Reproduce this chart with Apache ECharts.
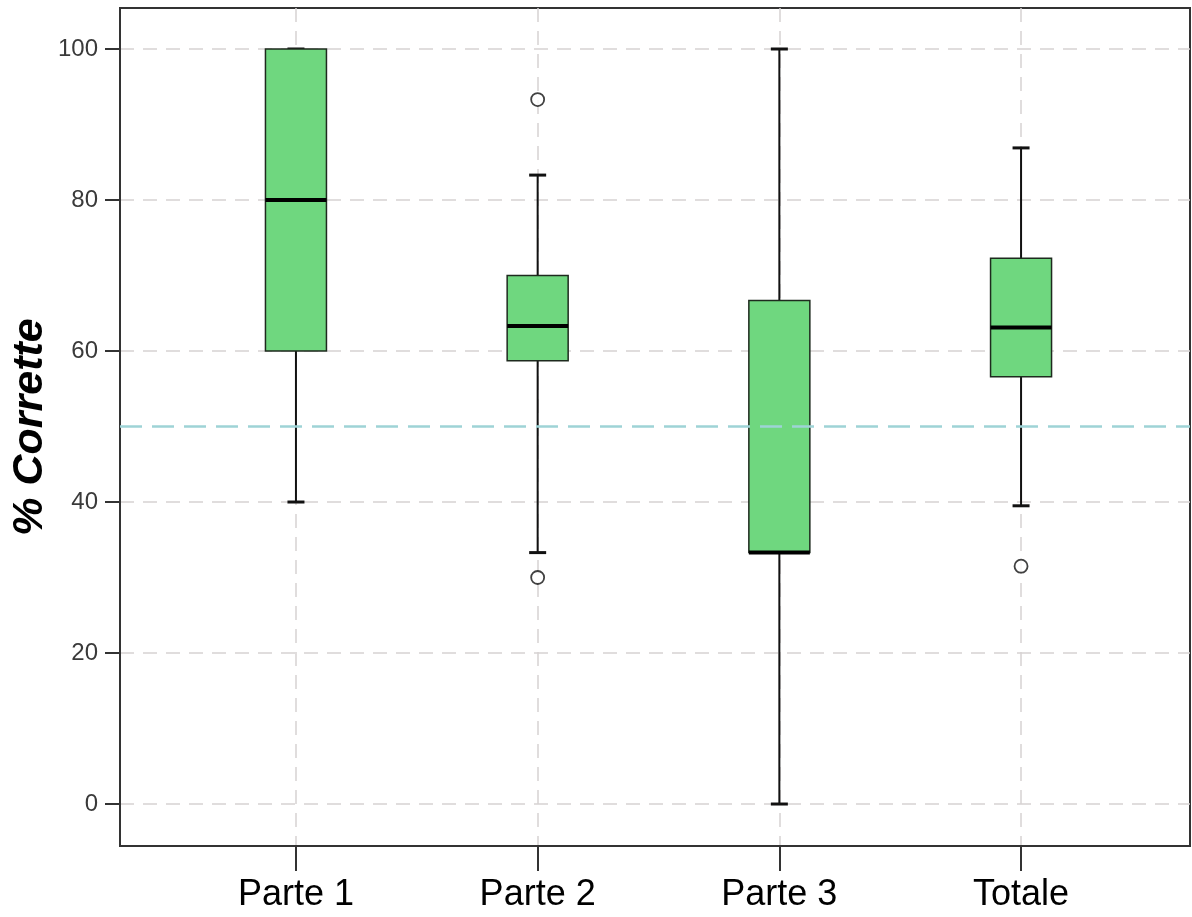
<!DOCTYPE html>
<html>
<head>
<meta charset="utf-8">
<script src="https://cdn.jsdelivr.net/npm/echarts@6/dist/echarts.min.js"></script>
<style>
  html, body { margin: 0; padding: 0; background: #fff; }
  #main { width: 1192px; height: 917px; }
</style>
</head>
<body>
<div id="main"></div>
<script>
// data
var categories = ['Parte 1', 'Parte 2', 'Parte 3', 'Totale'];
// [min, Q1, median, Q3, max]
var boxes = [
    [40, 60, 80, 100, 100],
    [33.3, 58.7, 63.3, 70, 83.3],
    [0, 33.3, 33.3, 66.7, 100],
    [39.5, 56.6, 63.1, 72.3, 86.9]
];
// [category index, value]
var outliers = [[1, 93.3], [1, 30], [3, 31.5]];
var yTicks = [0, 20, 40, 60, 80, 100];
var refValue = 50;

var myChart = echarts.init(document.getElementById('main'));

function renderBox(params, api) {
    var i = api.value(0);
    var lo = api.coord([i, api.value(1)]);
    var q1 = api.coord([i, api.value(2)]);
    var med = api.coord([i, api.value(3)]);
    var q3 = api.coord([i, api.value(4)]);
    var hi = api.coord([i, api.value(5)]);
    var x = lo[0], half = 30.5, cap = 8.5;
    var line = { stroke: '#111', lineWidth: 2 };
    return {
        type: 'group',
        children: [
            { type: 'line', shape: { x1: x, y1: hi[1], x2: x, y2: q3[1] }, style: line },
            { type: 'line', shape: { x1: x, y1: q1[1], x2: x, y2: lo[1] }, style: line },
            { type: 'line', shape: { x1: x - cap, y1: hi[1], x2: x + cap, y2: hi[1] }, style: { stroke: '#111', lineWidth: 3 } },
            { type: 'line', shape: { x1: x - cap, y1: lo[1], x2: x + cap, y2: lo[1] }, style: { stroke: '#111', lineWidth: 3 } },
            { type: 'rect', shape: { x: x - half, y: q3[1], width: half * 2, height: q1[1] - q3[1] },
              style: { fill: '#6fd77f', stroke: '#1e2a1e', lineWidth: 1.5 } },
            { type: 'line', shape: { x1: x - half, y1: med[1], x2: x + half, y2: med[1] }, style: { stroke: '#000', lineWidth: 4 } }
        ]
    };
}

var option = {
    backgroundColor: '#fff',
    animation: false,
    grid: {
        left: 120, right: 2, top: 8, bottom: 71,
        outerBoundsMode: 'none',
        containLabel: false,
        show: true, borderColor: '#333', borderWidth: 2
    },
    xAxis: {
        type: 'value',
        min: -0.728,
        max: 3.699,
        axisLine: { show: true, onZero: false, lineStyle: { color: '#333', width: 2 } },
        axisTick: { show: true, customValues: [0, 1, 2, 3], length: 25, lineStyle: { color: '#333', width: 2 } },
        axisLabel: {
            customValues: [0, 1, 2, 3],
            formatter: function (v) { return categories[Math.round(v)]; },
            color: '#000', fontFamily: 'Liberation Sans', fontSize: 36, margin: 31
        },
        splitLine: { show: true, lineStyle: { color: '#d6d2d2', type: [14, 9], width: 1.5 } }
    },
    yAxis: {
        type: 'value',
        min: -5.56,
        max: 105.43,
        name: '% Corrette',
        nameLocation: 'middle',
        nameRotate: 90,
        nameGap: 68,
        nameMoveOverlap: false,
        nameTextStyle: { fontFamily: 'Liberation Sans', fontSize: 43, fontWeight: 'bold', fontStyle: 'italic', color: '#000' },
        axisLine: { show: true, onZero: false, lineStyle: { color: '#333', width: 2 } },
        axisTick: { show: true, customValues: yTicks, length: 15, lineStyle: { color: '#333', width: 2 } },
        axisLabel: { customValues: yTicks, color: '#3a3a3a', fontFamily: 'Liberation Sans', fontSize: 24, margin: 22 },
        splitLine: { show: true, lineStyle: { color: '#d6d2d2', type: [14, 9], width: 1.5 } }
    },
    series: [
        {
            type: 'line',
            data: [],
            z: 1,
            markLine: {
                silent: true,
                symbol: 'none',
                label: { show: false },
                lineStyle: { color: '#9ed3d6', type: [22, 10], width: 2.5 },
                data: [{ yAxis: refValue }]
            }
        },
        {
            type: 'custom',
            z: 3,
            renderItem: renderBox,
            data: boxes.map(function (b, i) { return [i].concat(b); })
        },
        {
            type: 'scatter',
            z: 4,
            symbol: 'circle',
            symbolSize: 13,
            itemStyle: { color: '#fff', borderColor: '#111', borderWidth: 1.8 },
            data: outliers
        }
    ]
};

myChart.setOption(option);
</script>
</body>
</html>
